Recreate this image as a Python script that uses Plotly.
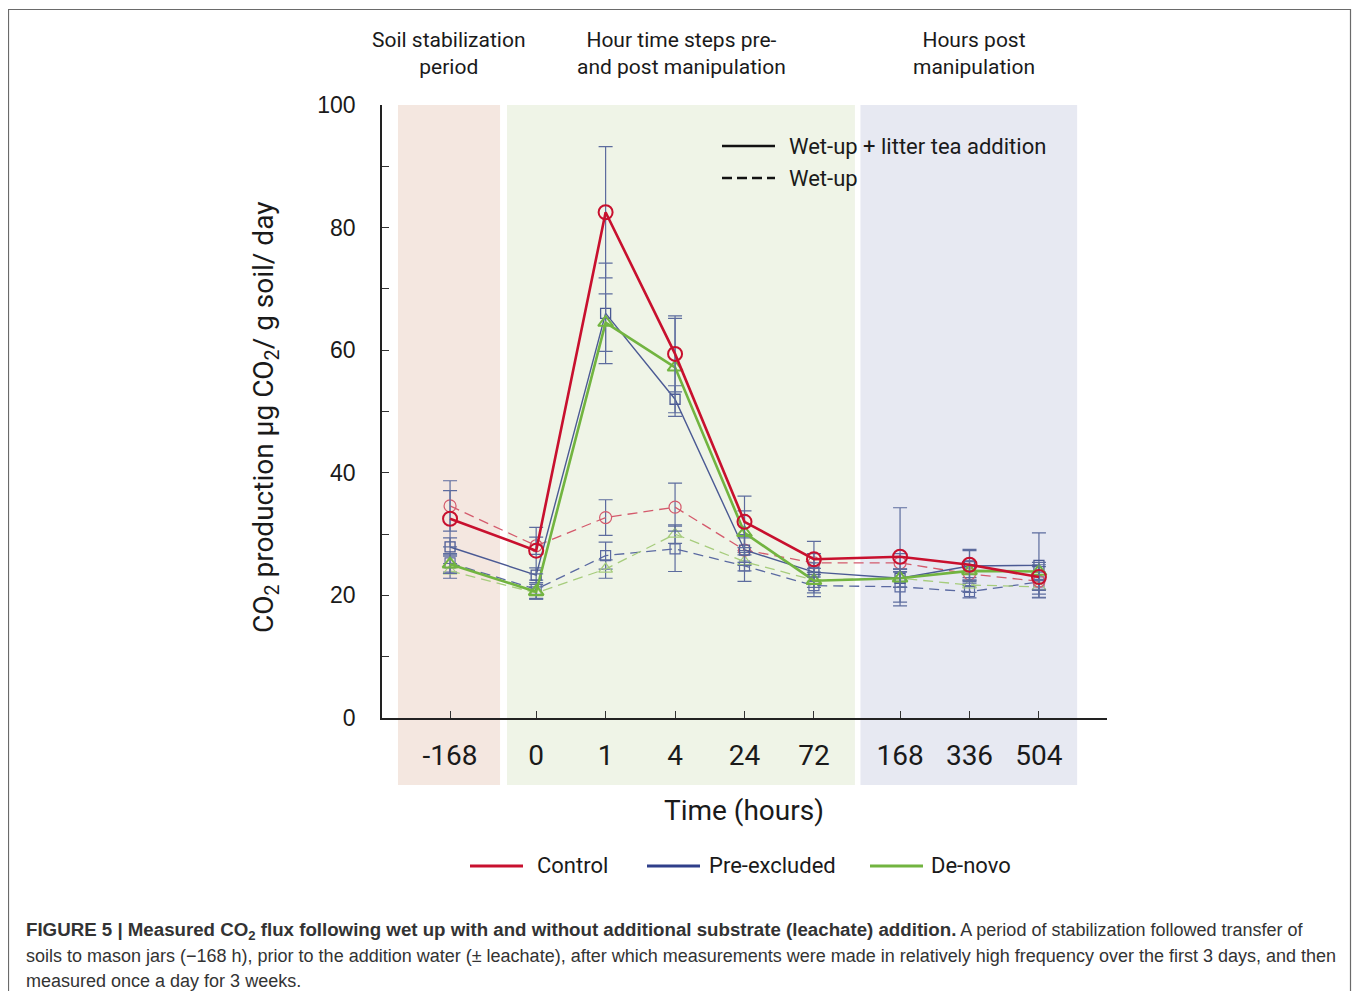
import plotly.graph_objects as go

# ---------------- data ----------------
times = ["-168", "0", "1", "4", "24", "72", "168", "336", "504"]
period = [0, 1, 1, 1, 1, 1, 2, 2, 2]   # stabilization / hour steps / post

control_tea = [32.5, 27.3, 82.5, 59.4, 32.0, 25.9, 26.3, 25.0, 23.0]
control_tea_err = [4.6, 3.8, 10.7, 6.2, 4.2, 2.9, 8.0, 2.5, 2.0]
control_wet = [34.6, 28.1, 32.7, 34.4, 27.4, 25.3, 25.3, 23.5, 22.3]
control_wet_err = [4.1, 1.4, 2.9, 3.9, 2.0, 1.5, 1.5, 1.5, 1.5]

pre_tea = [27.9, 23.3, 66.0, 52.0, 27.4, 23.8, 22.8, 24.8, 24.9]
pre_tea_err = [1.5, 1.2, 8.2, 2.2, 2.5, 1.5, 1.5, 2.5, 5.3]
pre_wet = [25.3, 21.0, 26.5, 27.6, 24.8, 21.6, 21.4, 20.6, 22.2]
pre_wet_err = [1.5, 1.5, 2.2, 3.7, 2.5, 1.8, 2.5, 1.0, 2.5]

denovo_tea = [25.1, 20.6, 64.5, 57.2, 30.2, 22.4, 22.8, 24.0, 23.9]
denovo_tea_err = [1.5, 1.2, 4.7, 8.0, 3.6, 2.0, 1.5, 1.5, 1.5]
denovo_wet = [24.0, 20.4, 24.3, 30.0, 25.5, 22.5, 22.8, 21.7, 21.4]
denovo_wet_err = [1.2, 1.0, 1.5, 1.5, 1.5, 1.2, 1.5, 1.2, 1.2]

period_titles = ["Soil stabilization<br>period",
                 "Hour time steps pre-<br>and post manipulation",
                 "Hours post<br>manipulation"]
y_ticks = list(range(0, 101, 10))

# ---------------- layout helpers ----------------
GAP = 0.24
xpos = [i + GAP * p for i, p in enumerate(period)]

OFF = 8  # page offset of the figure inside the html body
W, H = 1360 - 2 * OFF, 999 - 2 * OFF
L = 382 - OFF
T = 105 - OFF
R = W - (1107 - OFF)
B = H - (718 - OFF)
PW, PH = W - L - R, H - T - B


def px(xp):
    """screen pixel x -> paper x"""
    return (xp - OFF - L) / PW


def py(yp):
    """screen pixel y -> paper y"""
    return (H - B - (yp - OFF)) / PH


MYR = "Roboto, 'Open Sans', sans-serif"
HEL = "'Liberation Sans', Arial, sans-serif"
ERR = "#5d6c9e"

RED, RED_L = "#c8102e", "#d45a6c"
BLUE, BLUE_L = "#4b5a94", "#5b6aa2"
GREEN, GREEN_L = "#72b440", "#a6cc7c"

fig = go.Figure()


def add(y, err, color, width, symbol, size, mwidth, dash):
    fig.add_trace(go.Scatter(
        x=xpos, y=y, mode="lines+markers",
        line=dict(color=color, width=width, dash=dash),
        marker=dict(symbol=symbol, size=size, color=color,
                    line=dict(color=color, width=mwidth)),
        error_y=dict(type="data", array=err, visible=True,
                     color=ERR, thickness=1.2, width=7),
        showlegend=False, hoverinfo="skip"))


# dashed (wet-up only) first
add(pre_wet, pre_wet_err, BLUE_L, 1.3, "square-open", 10, 1.2, "10px,6px")
add(denovo_wet, denovo_wet_err, GREEN_L, 1.3, "triangle-up-open", 12, 1.2, "10px,6px")
add(control_wet, control_wet_err, RED_L, 1.3, "circle-open", 12, 1.2, "10px,6px")
# solid (wet-up + litter tea)
add(pre_tea, pre_tea_err, BLUE, 1.4, "square-open", 10, 1.3, "solid")
add(denovo_tea, denovo_tea_err, GREEN, 2.6, "triangle-up-open", 13, 2, "solid")
add(control_tea, control_tea_err, RED, 2.6, "circle-open", 14, 2, "solid")

shapes = []
# background bands (period shading)
band_edges = [(xpos[0] - 0.75, xpos[0] + 0.72, "#f4e7e0"),
              (xpos[1] - 0.42, xpos[5] + 0.59, "#eff4e7"),
              (xpos[6] - 0.57, xpos[8] + 0.55, "#e7e9f2")]
for x0, x1, c in band_edges:
    shapes.append(dict(type="rect", xref="x", yref="paper", x0=x0, x1=x1,
                       y0=py(785), y1=1.0, fillcolor=c, line=dict(width=0),
                       layer="below"))

# inner legend (line style)
shapes.append(dict(type="line", xref="paper", yref="paper", x0=px(722), x1=px(775),
                   y0=py(146), y1=py(146), line=dict(color="#111", width=2.6)))
shapes.append(dict(type="line", xref="paper", yref="paper", x0=px(722), x1=px(775),
                   y0=py(178), y1=py(178), line=dict(color="#111", width=2.6, dash="10px,5px")))

# bottom legend (series colours)
for x0, c in [(470, RED), (647, "#2f3f8a"), (870, GREEN)]:
    shapes.append(dict(type="line", xref="paper", yref="paper", x0=px(x0), x1=px(x0 + 53),
                       y0=py(866), y1=py(866), line=dict(color=c, width=3)))

# outer frame
shapes.append(dict(type="rect", xref="paper", yref="paper", x0=px(8.5), x1=px(1350.5),
                   y0=py(1030), y1=py(9.5), line=dict(color="#6a6a6a", width=1.2),
                   fillcolor="rgba(0,0,0,0)"))

ann = []
band_centers = [449, 681, 974]
for t, cx in zip(period_titles, band_centers):
    ann.append(dict(text=t, xref="paper", yref="paper", x=px(cx), y=py(54),
                    xanchor="center", yanchor="middle", showarrow=False,
                    font=dict(family=MYR, size=21, color="#1a1a1a")))

ann.append(dict(text="Wet-up + litter tea addition", xref="paper", yref="paper",
                x=px(787), y=py(146), xanchor="left", yanchor="middle", showarrow=False,
                font=dict(family=MYR, size=22, color="#1a1a1a")))
ann.append(dict(text="Wet-up", xref="paper", yref="paper",
                x=px(787), y=py(178), xanchor="left", yanchor="middle", showarrow=False,
                font=dict(family=MYR, size=22, color="#1a1a1a")))

for x0, t in [(535, "Control"), (707, "Pre-excluded"), (929, "De-novo")]:
    ann.append(dict(text=t, xref="paper", yref="paper", x=px(x0), y=py(866),
                    xanchor="left", yanchor="middle", showarrow=False,
                    font=dict(family=MYR, size=22, color="#1a1a1a")))

ann.append(dict(text="Time (hours)", xref="paper", yref="paper", x=px(744), y=py(810),
                xanchor="center", yanchor="middle", showarrow=False,
                font=dict(family=MYR, size=28, color="#1a1a1a")))
ann.append(dict(text="CO<sub>2</sub> production µg CO<sub>2</sub>/ g soil/ day",
                xref="paper", yref="paper", x=px(266), y=py(418), textangle=-90,
                xanchor="center", yanchor="middle", showarrow=False,
                font=dict(family=MYR, size=28, color="#1a1a1a")))

CAP = "'Liberation Sans', Arial, sans-serif"
cap_lines = [
    "<span style='font-size:18.7px'><b>FIGURE 5 | Measured CO<sub>2</sub> flux following wet up "
    "with and without additional substrate (leachate) addition.</b></span> "
    "A period of stabilization followed transfer of",
    "soils to mason jars (−168 h), prior to the addition water (± leachate), after which "
    "measurements were made in relatively high frequency over the first 3 days, and then",
    "measured once a day for 3 weeks.",
]
for i, t in enumerate(cap_lines):
    ann.append(dict(text=t, xref="paper", yref="paper", x=px(24), y=py(931 + 25 * i),
                    xanchor="left", yanchor="middle", showarrow=False,
                    font=dict(family=CAP, size=18, color="#333333")))

fig.update_layout(
    width=W, height=H,
    margin=dict(l=L, r=R, t=T, b=B, pad=0),
    paper_bgcolor="white", plot_bgcolor="rgba(0,0,0,0)",
    shapes=shapes, annotations=ann,
    xaxis=dict(range=[-0.98, 9.46], showgrid=False, zeroline=False,
               showline=True, linecolor="#222", linewidth=1.5,
               tickmode="array", tickvals=xpos + [9.45], ticktext=times + [""],
               ticks="inside", ticklen=7, tickcolor="#333", tickwidth=1,
               ticklabelstandoff=12,
               tickfont=dict(family=MYR, size=28, color="#1a1a1a")),
    yaxis=dict(range=[0, 100], showgrid=False, zeroline=False,
               showline=True, linecolor="#222", linewidth=1.5,
               tickmode="array", tickvals=y_ticks,
               ticktext=[str(v) if v % 20 == 0 else "" for v in y_ticks],
               ticks="inside", ticklen=7, tickcolor="#333", tickwidth=1,
               ticklabelstandoff=20,
               tickfont=dict(family=HEL, size=23, color="#1a1a1a")),
)

fig.write_html("out.html")
